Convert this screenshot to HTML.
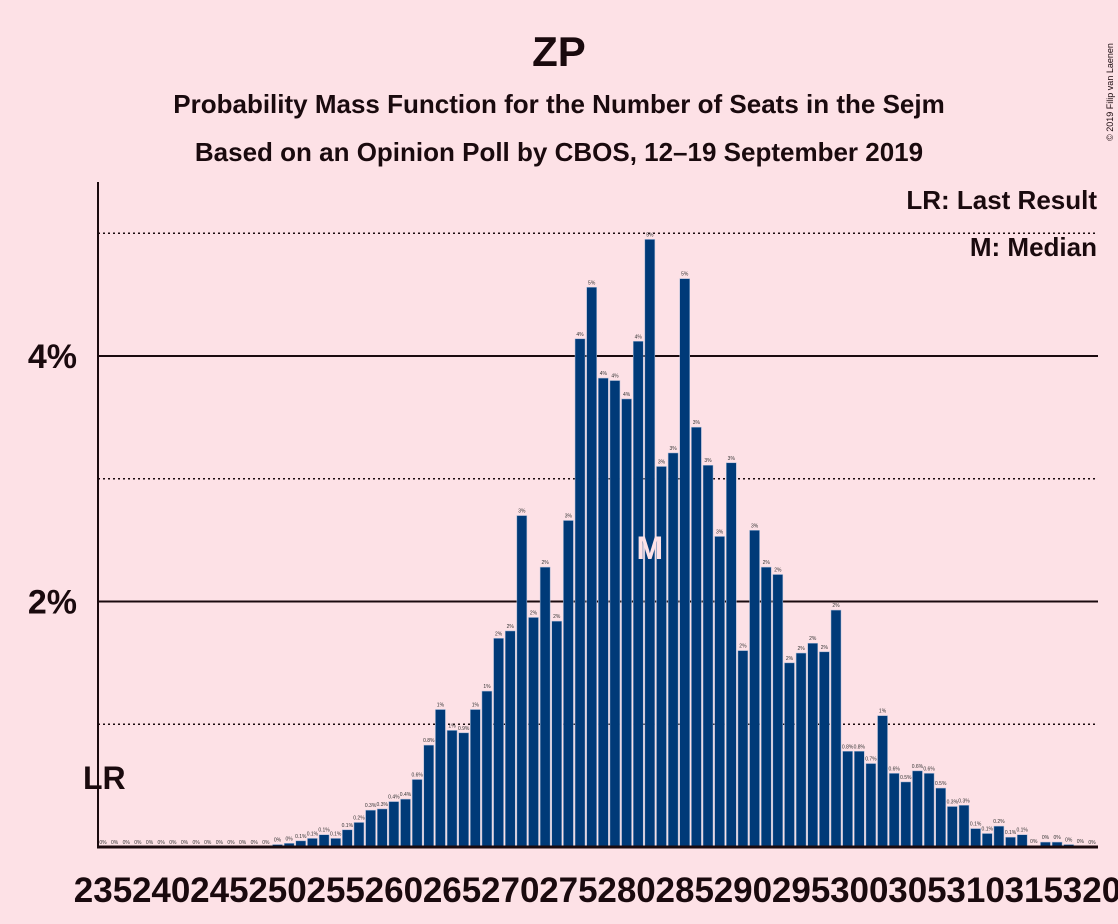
<!DOCTYPE html>
<html><head><meta charset="utf-8"><style>
body{margin:0;background:#fde1e6;}
svg{display:block;font-family:"Liberation Sans",sans-serif;}
</style></head><body>
<svg id="chart" width="1118" height="924" viewBox="0 0 1118 924">
<rect width="1118" height="924" fill="#fde1e6"/>
<text x="559" y="66" text-anchor="middle" font-size="42" font-weight="bold" fill="#1a0a0e">ZP</text>
<text x="559" y="113" text-anchor="middle" font-size="26" font-weight="bold" fill="#1a0a0e">Probability Mass Function for the Number of Seats in the Sejm</text>
<text x="559" y="161" text-anchor="middle" font-size="26" font-weight="bold" fill="#1a0a0e">Based on an Opinion Poll by CBOS, 12–19 September 2019</text>
<text transform="translate(1113,92) rotate(-90)" text-anchor="middle" font-size="9" fill="#1a0a0e">© 2019 Filip van Laenen</text>
<g id="grid"></g>
<g id="bars"></g>
<g id="xlabels"></g>
<line x1="98" y1="182" x2="98" y2="848" stroke="#1a0a0e" stroke-width="2"/>
<line x1="97" y1="847" x2="1098" y2="847" stroke="#1a0a0e" stroke-width="3"/>
<text x="1097" y="209" text-anchor="end" font-size="26" font-weight="bold" fill="#1a0a0e">LR: Last Result</text>
<text x="1097" y="256" text-anchor="end" font-size="26" font-weight="bold" fill="#1a0a0e">M: Median</text>
<text x="83" y="789" font-size="32" font-weight="bold" fill="#1a0a0e">LR</text>
</svg>
<script>
const seats = [];
for (let s = 235; s <= 320; s++) seats.push(s);
const probs = [0,0,0,0,0,0,0,0,0,0,0,0,0,0,0,
0.02,0.03,0.05,0.07,0.1,0.07,0.14,0.2,0.3,0.31,0.37,0.39,0.55,0.83,1.12,
0.95,0.93,1.12,1.27,1.7,1.76,2.7,1.87,2.28,1.84,2.66,4.14,4.56,3.82,3.8,
3.65,4.12,4.95,3.1,3.21,4.63,3.42,3.11,2.53,3.13,1.6,2.58,2.28,2.22,1.5,
1.58,1.66,1.59,1.93,0.78,0.78,0.68,1.07,0.6,0.53,0.62,0.6,0.48,0.33,0.34,
0.15,0.11,0.17,0.08,0.1,0.01,0.04,0.04,0.02,0.01,0];
const yTicks = [2,4];
const yDotted = [1,3,5];
const xTicks = [235,240,245,250,255,260,265,270,275,280,285,290,295,300,305,310,315,320];
const medianSeat = 282;

const NS = "http://www.w3.org/2000/svg";
const x = s => 103 + (s - 235) * 11.635;
const y = v => 847 - v * 122.75;
function mk(tag, attrs, parent) {
  const e = document.createElementNS(NS, tag);
  for (const k in attrs) e.setAttribute(k, attrs[k]);
  parent.appendChild(e);
  return e;
}
const grid = document.getElementById('grid');
yDotted.forEach(v => {
  const l = mk('line', {x1: 98, x2: 1098, y1: y(v), y2: y(v), stroke: '#1a0a0e', 'stroke-width': 1.5, 'stroke-dasharray': '2,3'}, grid);
  
  
});
yTicks.forEach(v => {
  const l = mk('line', {x1: 98, x2: 1098, y1: y(v), y2: y(v), stroke: '#1a0a0e', 'stroke-width': 2}, grid);
  
  
  const t = mk('text', {x: 77, y: y(v) + 12, 'text-anchor': 'end', 'font-size': 34, 'font-weight': 'bold', fill: '#1a0a0e'}, grid);
  t.textContent = v + '%';
  
  
});
const bars = document.getElementById('bars');
seats.forEach((s, i) => {
  const v = probs[i];
  const h = v * 122.75;
  const r = mk('rect', {x: x(s) - 5, y: y(v), width: 10, height: h, fill: '#003a78', stroke: '#a9bcd8', 'stroke-width': 0.5}, bars);
  
  
  const lbl = v >= 0.95 ? Math.round(v) + '%' : (v >= 0.05 ? v.toFixed(1) + '%' : '0%');
  const t = mk('text', {x: x(s), y: y(v) - 3, 'text-anchor': 'middle', 'font-size': 5, fill: '#333'}, bars);
  t.textContent = lbl;
  
  
});
const mt = mk('text', {x: x(medianSeat), y: 559, 'text-anchor': 'middle', 'font-size': 32, 'font-weight': 'bold', fill: '#fde1e6'}, bars);
mt.textContent = 'M';


const xl = document.getElementById('xlabels');
xTicks.forEach(s => {
  const t = mk('text', {x: x(s), y: 902, 'text-anchor': 'middle', 'font-size': 35, 'font-weight': 'bold', fill: '#1a0a0e'}, xl);
  t.textContent = s;
  
  
});
</script>
</body></html>
